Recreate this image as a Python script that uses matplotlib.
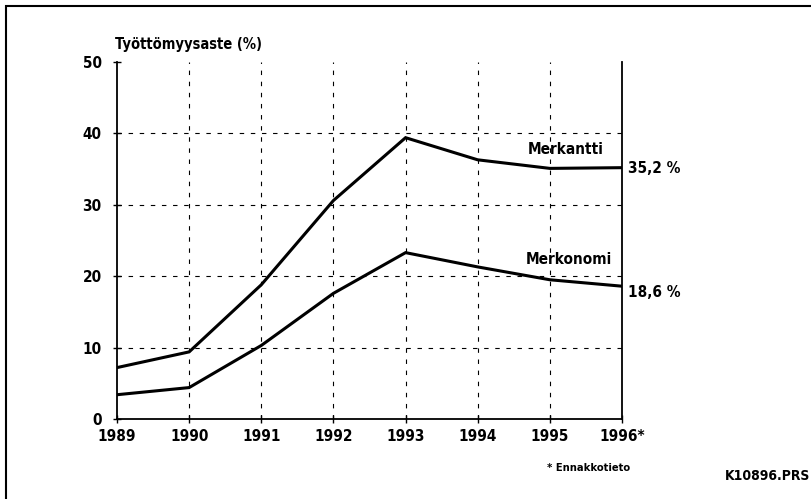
import matplotlib.pyplot as plt
import matplotlib.patches as patches

# data
years = [1989, 1990, 1991, 1992, 1993, 1994, 1995, 1996]
year_labels = ['1989', '1990', '1991', '1992', '1993', '1994', '1995', '1996*']
merkantti = [7.2, 9.4, 18.8, 30.6, 39.4, 36.3, 35.1, 35.2]
merkonomi = [3.4, 4.4, 10.3, 17.6, 23.3, 21.3, 19.5, 18.6]
y_ticks = [0, 10, 20, 30, 40, 50]

plt.rcParams['font.family'] = ['DejaVu Sans']
plt.rcParams['font.weight'] = 'bold'
plt.rcParams['font.stretch'] = 'condensed'

fig = plt.figure(figsize=(8.12, 4.99), dpi=100)
ax = fig.add_axes([117 / 812, 1 - 419 / 499, (622 - 117) / 812, (419 - 62) / 499])

# frame round the whole picture
fig.patches.append(patches.Rectangle((6 / 812, -0.05), 1.1, 1 - 6 / 499 + 0.05,
                                     transform=fig.transFigure, fill=False,
                                     edgecolor='black', linewidth=1.5))

ax.plot(years, merkantti, color='black', linewidth=2.2, solid_joinstyle='miter')
ax.plot(years, merkonomi, color='black', linewidth=2.2, solid_joinstyle='miter')

ax.set_xlim(1989, 1996)
ax.set_ylim(0, 50)
ax.set_xticks(years)
ax.set_xticklabels(year_labels)
ax.set_yticks(y_ticks)

# dashed grid inside the plot
for y in y_ticks[1:-1]:
    ax.axhline(y, color='black', linewidth=0.8, linestyle=(0, (4, 6)))
for x in years[1:-1]:
    ax.axvline(x, color='black', linewidth=0.8, linestyle=(0, (4, 6)))

ax.spines['top'].set_visible(False)
for s in ['left', 'right', 'bottom']:
    ax.spines[s].set_linewidth(1.3)
ax.tick_params(axis='both', direction='inout', length=6, width=1, labelsize=11, pad=4)
ax.tick_params(axis='y', pad=8)
for lab in ax.get_xticklabels() + ax.get_yticklabels():
    lab.set_fontweight('bold')

fig.text(115 / 812, 1 - 45 / 499, 'Työttömyysaste (%)', fontsize=10.5, fontweight='bold', va='center')
ax.text(1995.22, 37.7, 'Merkantti', fontsize=11, fontweight='bold', ha='center', va='center')
ax.text(1995.27, 22.3, 'Merkonomi', fontsize=11, fontweight='bold', ha='center', va='center')
ax.text(1996.08, 35.15, '35,2 %', fontsize=11, fontweight='bold', va='center', clip_on=False)
ax.text(1996.08, 17.65, '18,6 %', fontsize=11, fontweight='bold', va='center', clip_on=False)
fig.text(630 / 812, 1 - 468 / 499, '* Ennakkotieto', fontsize=8, fontweight='bold',
         ha='right', va='center')
fig.text(810 / 812, 1 - 476 / 499, 'K10896.PRS', fontsize=10, fontweight='bold',
         ha='right', va='center')

fig.savefig('out.png', dpi=100)
